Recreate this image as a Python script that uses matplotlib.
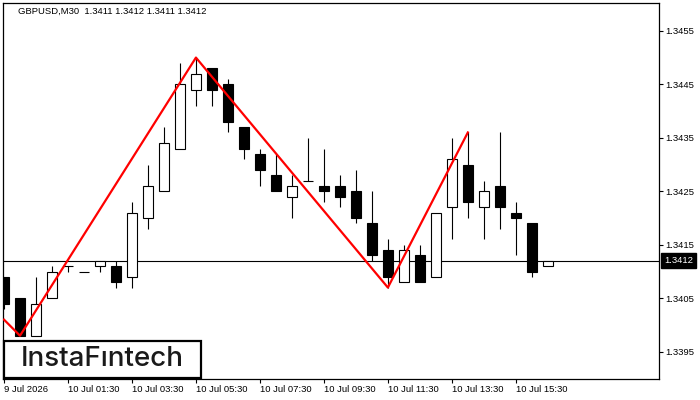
import matplotlib
matplotlib.use('Agg')
import matplotlib.pyplot as plt
from matplotlib.patches import Rectangle

plt.rcParams['font.family'] = ['Liberation Sans', 'DejaVu Sans']

# header text of the chart
title_text = 'GBPUSD,M30  1.3411 1.3412 1.3411 1.3412'

# M30 candles, first one is 9 Jul 23:30
opens  = [1.3409, 1.3405, 1.3398, 1.3405, 1.3411, 1.3410, 1.3411, 1.3411, 1.3409, 1.3420,
          1.3425, 1.3433, 1.3444, 1.3448, 1.3445, 1.3437, 1.3432, 1.3428, 1.3424, 1.3427,
          1.3426, 1.3426, 1.3425, 1.3419, 1.3414, 1.3408, 1.3413, 1.3409, 1.3422, 1.3430,
          1.3422, 1.3426, 1.3421, 1.3419, 1.3411]
highs  = [1.3409, 1.3405, 1.3409, 1.3411, 1.3411, 1.3410, 1.3412, 1.3412, 1.3423, 1.3430,
          1.3437, 1.3449, 1.3450, 1.3448, 1.3446, 1.3437, 1.3433, 1.3432, 1.3428, 1.3435,
          1.3433, 1.3428, 1.3429, 1.3425, 1.3416, 1.3415, 1.3415, 1.3421, 1.3435, 1.3436,
          1.3427, 1.3436, 1.3423, 1.3419, 1.3412]
lows   = [1.3403, 1.3398, 1.3398, 1.3405, 1.3410, 1.3410, 1.3410, 1.3407, 1.3407, 1.3418,
          1.3425, 1.3433, 1.3441, 1.3441, 1.3436, 1.3431, 1.3426, 1.3425, 1.3420, 1.3427,
          1.3423, 1.3422, 1.3419, 1.3412, 1.3407, 1.3408, 1.3408, 1.3409, 1.3416, 1.3420,
          1.3416, 1.3418, 1.3413, 1.3409, 1.3411]
closes = [1.3404, 1.3398, 1.3404, 1.3410, 1.3411, 1.3410, 1.3412, 1.3408, 1.3421, 1.3426,
          1.3434, 1.3445, 1.3447, 1.3444, 1.3438, 1.3433, 1.3429, 1.3425, 1.3426, 1.3427,
          1.3425, 1.3424, 1.3420, 1.3413, 1.3409, 1.3414, 1.3408, 1.3421, 1.3431, 1.3423,
          1.3425, 1.3422, 1.3420, 1.3410, 1.3412]

# time labels every 4 bars
time_ticks = [0, 4, 8, 12, 16, 20, 24, 28, 32]
time_labels = ['9 Jul 2026', '10 Jul 01:30', '10 Jul 03:30', '10 Jul 05:30', '10 Jul 07:30',
               '10 Jul 09:30', '10 Jul 11:30', '10 Jul 13:30', '10 Jul 15:30']
price_ticks = [1.3395, 1.3405, 1.3415, 1.3425, 1.3435, 1.3445, 1.3455]
last_price = 1.3412

# red zigzag (pattern) points: bar index, price
pattern_idx = [0, 1, 12, 24, 29]
pattern_price = [1.3401, 1.3398, 1.3450, 1.3407, 1.3436]

fig = plt.figure(figsize=(7, 4), dpi=100)
ax = fig.add_axes([2.5/700, 21/400, 656.8/700, 376.5/400])

body_w = 0.64
for i in range(len(opens)):
    o, h, l, c = opens[i], highs[i], lows[i], closes[i]
    ax.vlines(i, l, h, color='black', linewidth=0.8, zorder=2)
    if o == c:
        ax.hlines(o, i - body_w/2, i + body_w/2, color='black', linewidth=0.8, zorder=3)
    else:
        fc = 'white' if c > o else 'black'
        ax.add_patch(Rectangle((i - body_w/2, min(o, c)), body_w, abs(c - o),
                               facecolor=fc, edgecolor='black', linewidth=0.8, zorder=3))

# current price line
ax.axhline(last_price, color='black', linewidth=0.8, zorder=1)

# pattern
ax.plot(pattern_idx, pattern_price, color='red', linewidth=1.6, zorder=5)

ax.set_xlim(-0.094, 40.97)
ax.set_ylim(1.33899, 1.34603)

ax.yaxis.tick_right()
ax.set_yticks(price_ticks)
ax.set_yticklabels(['%.4f' % p for p in price_ticks])
ax.set_xticks(time_ticks)
ax.set_xticklabels(time_labels, ha='left')
ax.tick_params(axis='both', direction='out', length=3, width=0.8, labelsize=6.8, pad=1.5, colors='black')
for s in ax.spines.values():
    s.set_linewidth(0.9)
    s.set_color('black')

# price tag on the right
ax.annotate('%.4f' % last_price, xy=(1, last_price), xycoords=('axes fraction', 'data'),
            xytext=(3.5, 0), textcoords='offset points', ha='left', va='center',
            fontsize=6.8, color='white',
            bbox=dict(boxstyle='square,pad=0.3', fc='black', ec='black'))

fig.text(18/700, 1 - 11/400, title_text, fontsize=6.8, va='center', ha='left')

# logo box
fig.patches.append(Rectangle((3.5/700, 22.5/400), 197/700, 37/400, transform=fig.transFigure,
                             facecolor='white', edgecolor='black', linewidth=1.6, zorder=10))
fig.text(102/700, 1 - 358.5/400, 'InstaF\u0131ntech', fontsize=20, family=['Inter', 'DejaVu Sans'],
         fontweight='medium', color='#1a1a1a', ha='center', va='center', zorder=11)

plt.savefig('out.png', dpi=100)
